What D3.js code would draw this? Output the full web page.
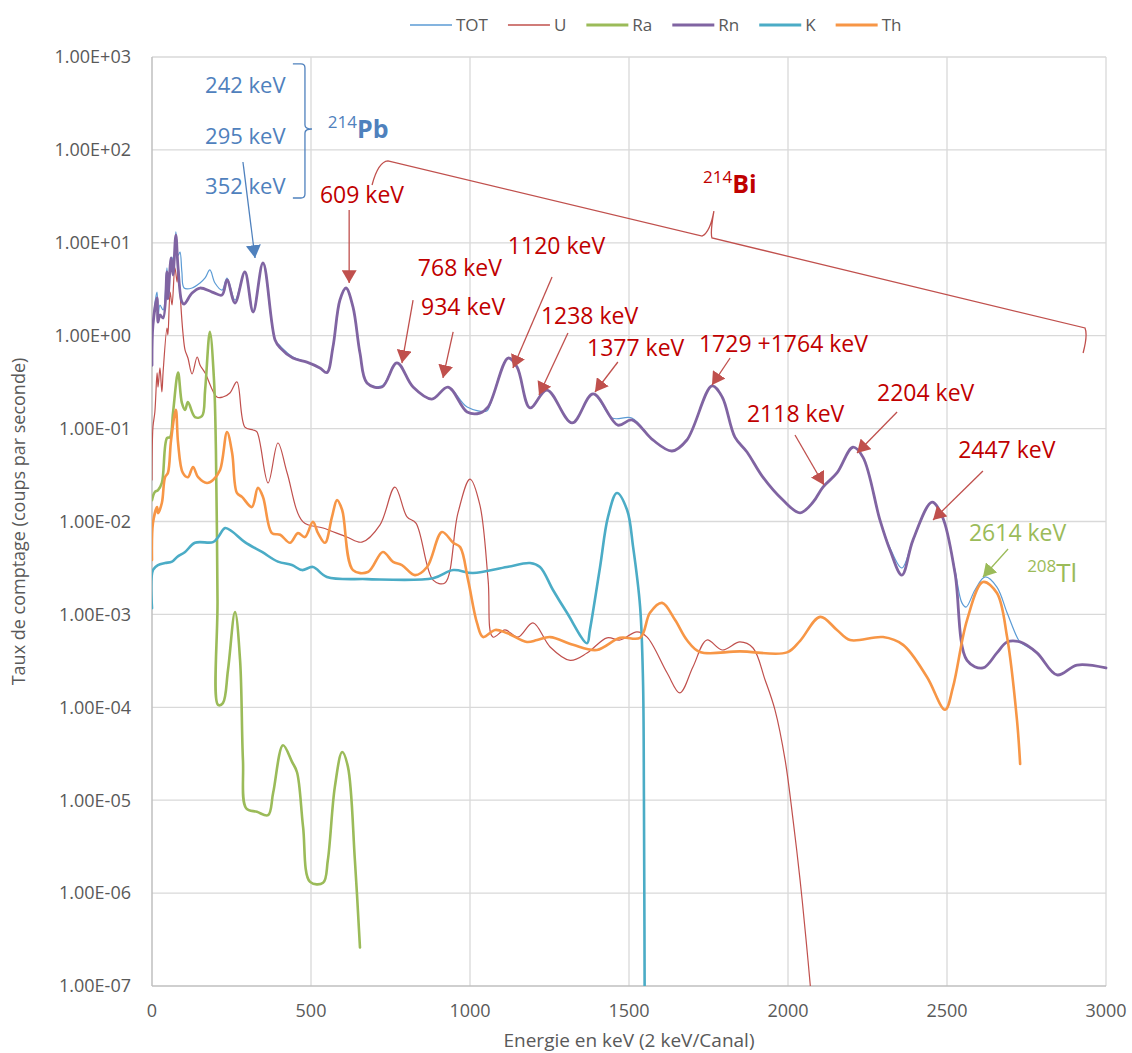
<!DOCTYPE html>
<html><head><meta charset="utf-8">
<script src="https://cdn.jsdelivr.net/npm/d3@7"></script>
<style>
body{margin:0;background:#fff}
svg{display:block}
text{font-family:"Open Sans",sans-serif}
</style>
</head><body>
<svg id="c" width="1132" height="1053"></svg>
<script>
// ---------- data (energy keV, count rate c/s) ----------
const seriesNames = ["TOT","U","Ra","Rn","K","Th"];
const seriesColors = ["#5B9BD5","#C0504D","#9BBB59","#8064A2","#4BACC6","#F79646"];
const seriesWidths = [1.2,1.2,2.6,2.8,2.6,2.6];

const TOT = [[0,0.48],[3,1.30],[16,2.95],[19,1.55],[25,2.14],[35,1.89],[47,5.36],[50,2.95],[63,7.03],[69,5.36],[75,13.1],[82,7.3],[88,7.96],[94,4.85],[101,3.26],[126,3.26],[151,3.69],[167,4.18],[182,5.1],[198,3.69],[220,3.1],[236,4.18],[261,2.42],[292,4.85],[318,1.84],[349,6.06],[387,0.90],[403,0.774],[443,0.59],[487,0.52],[528,0.45],[550,0.40],[569,0.755],[591,2.42],[610,3.26],[632,2.04],[654,0.65],[676,0.31],[723,0.288],[770,0.51],[821,0.28],[880,0.208],[931,0.28],[991,0.171],[1053,0.155],[1063,0.18],[1120,0.575],[1148,0.46],[1189,0.167],[1242,0.26],[1321,0.115],[1387,0.236],[1447,0.13],[1509,0.13],[1575,0.0754],[1635,0.0574],[1682,0.0754],[1761,0.288],[1793,0.219],[1833,0.081],[1871,0.056],[1921,0.030],[1984,0.017],[2038,0.0124],[2079,0.0162],[2110,0.0235],[2154,0.0333],[2204,0.063],[2236,0.049],[2289,0.0104],[2321,0.00518],[2358,0.00316],[2393,0.0063],[2453,0.0162],[2487,0.0109],[2525,0.0030],[2547,0.00133],[2560,0.0012],[2588,0.00183],[2620,0.00253],[2657,0.00197],[2689,0.00104],[2720,0.00057],[2730,0.000505],[2783,0.000385],[2846,0.000223],[2909,0.000285],[3000,0.000265]];

const U = [[0,0.028],[3,0.104],[9,0.151],[16,0.397],[19,0.28],[25,0.45],[31,0.248],[35,0.41],[47,1.21],[50,1.02],[57,2.95],[63,2.14],[72,5.36],[79,3.78],[82,5.77],[88,2.95],[97,1.10],[104,0.70],[113,0.575],[126,0.387],[142,0.59],[151,0.484],[167,0.397],[204,0.219],[223,0.219],[245,0.242],[267,0.318],[292,0.104],[318,0.0966],[330,0.092],[365,0.026],[396,0.070],[425,0.0333],[475,0.0099],[538,0.0085],[613,0.0068],[660,0.006],[717,0.0092],[764,0.0235],[802,0.0112],[830,0.0096],[884,0.00234],[921,0.00218],[962,0.0123],[1000,0.0286],[1031,0.0151],[1057,0.00234],[1072,0.00057],[1110,0.00068],[1151,0.00057],[1198,0.00081],[1252,0.000446],[1315,0.00032],[1368,0.000384],[1431,0.00056],[1472,0.00053],[1525,0.00065],[1557,0.00057],[1620,0.000234],[1660,0.000143],[1701,0.000272],[1745,0.00053],[1793,0.000414],[1849,0.000505],[1890,0.000435],[1928,0.000197],[1959,9.4e-5],[1991,2.7e-5],[2016,6.1e-6],[2038,1.38e-6],[2057,3.1e-7],[2072,8.6e-8]];

const Ra = [[0,0.017],[9,0.0208],[19,0.0218],[31,0.026],[47,0.079],[57,0.081],[66,0.147],[82,0.40],[94,0.189],[104,0.159],[113,0.193],[135,0.133],[157,0.136],[167,0.26],[182,1.10],[195,0.333],[201,0.059],[206,0.00143],[208,1.06e-4],[223,1.11e-4],[239,2.52e-4],[261,1.06e-3],[277,3.2e-4],[286,2.7e-5],[296,8.2e-6],[330,7.5e-6],[365,6.9e-6],[381,1.2e-5],[412,3.9e-5],[440,2.6e-5],[456,2.0e-5],[475,5.2e-6],[497,1.32e-6],[538,1.29e-6],[553,2.27e-6],[575,1.39e-5],[598,3.3e-5],[616,2.3e-5],[638,2.27e-6],[654,2.6e-7]];

const Rn = [[0,0.48],[3,1.30],[16,2.55],[19,1.40],[25,1.67],[35,1.55],[47,4.85],[50,2.5],[60,6.86],[66,4.5],[75,12.1],[82,5.36],[94,2.31],[101,2.19],[126,2.88],[151,3.26],[189,2.95],[220,2.74],[236,3.98],[261,2.25],[292,4.85],[318,1.80],[349,6.06],[387,0.90],[403,0.74],[443,0.575],[487,0.52],[528,0.45],[550,0.40],[569,0.755],[591,2.42],[610,3.26],[632,2.04],[654,0.65],[676,0.31],[723,0.28],[770,0.51],[821,0.28],[880,0.208],[931,0.28],[991,0.151],[1031,0.147],[1057,0.171],[1120,0.575],[1148,0.46],[1189,0.167],[1242,0.26],[1321,0.115],[1387,0.236],[1465,0.109],[1509,0.124],[1575,0.0754],[1635,0.0574],[1682,0.0754],[1761,0.288],[1793,0.219],[1833,0.081],[1871,0.056],[1921,0.030],[1984,0.017],[2038,0.0124],[2079,0.0162],[2110,0.0235],[2154,0.0333],[2204,0.063],[2236,0.049],[2289,0.0104],[2321,0.0049],[2358,0.00265],[2393,0.0063],[2453,0.0162],[2487,0.0109],[2525,0.0028],[2563,0.00032],[2613,0.000265],[2657,0.000385],[2689,0.000505],[2730,0.000505],[2783,0.000385],[2846,0.000223],[2909,0.000285],[3000,0.000265]];

const K = [[0,0.00117],[3,0.0030],[19,0.0034],[41,0.00357],[63,0.0037],[79,0.00415],[104,0.0047],[135,0.0059],[192,0.006],[208,0.0068],[230,0.0085],[252,0.0078],[292,0.006],[346,0.0047],[396,0.0037],[440,0.0034],[472,0.0030],[506,0.00324],[550,0.00253],[676,0.0024],[884,0.00245],[947,0.0030],[1009,0.00279],[1116,0.00324],[1189,0.00357],[1220,0.00324],[1261,0.00183],[1305,0.00104],[1368,0.00049],[1377,0.00068],[1409,0.00324],[1434,0.0112],[1462,0.0203],[1494,0.0133],[1513,0.0053],[1535,0.0012],[1544,0.000197],[1547,1.0e-5],[1550,1e-8]];

const Th = [[0,0.00385],[3,0.0096],[16,0.0143],[19,0.0123],[31,0.0158],[41,0.030],[50,0.0333],[60,0.0754],[75,0.159],[82,0.070],[97,0.0333],[113,0.030],[129,0.0386],[145,0.030],[173,0.026],[192,0.028],[214,0.0358],[236,0.092],[252,0.0546],[267,0.0203],[283,0.0184],[314,0.0143],[333,0.023],[349,0.0184],[377,0.0075],[403,0.0072],[434,0.0059],[459,0.0075],[481,0.0068],[506,0.0099],[522,0.0075],[544,0.0059],[566,0.0112],[582,0.017],[598,0.0133],[632,0.0030],[679,0.00286],[726,0.0047],[758,0.00367],[786,0.0034],[827,0.00265],[865,0.00324],[912,0.0077],[947,0.0059],[969,0.0053],[994,0.00234],[1022,0.00081],[1041,0.00057],[1079,0.00068],[1116,0.00063],[1179,0.000505],[1211,0.00053],[1252,0.00057],[1324,0.00047],[1399,0.000414],[1472,0.00056],[1535,0.00056],[1566,0.00104],[1604,0.00133],[1645,0.00087],[1682,0.00053],[1723,0.000394],[1849,0.0004],[1997,0.00039],[2038,0.00052],[2101,0.00094],[2154,0.00068],[2195,0.00053],[2299,0.00057],[2362,0.00047],[2437,0.000212],[2494,9.4e-5],[2519,1.66e-4],[2563,0.00087],[2613,0.00223],[2657,0.0017],[2689,0.00057],[2720,7.3e-5],[2730,2.46e-5]];

const xTicks = [0,500,1000,1500,2000,2500,3000];
const yTicks = [1e-7,1e-6,1e-5,1e-4,1e-3,1e-2,1e-1,1,10,100,1000];
const yTickLabels = ["1.00E-07","1.00E-06","1.00E-05","1.00E-04","1.00E-03","1.00E-02","1.00E-01","1.00E+00","1.00E+01","1.00E+02","1.00E+03"];
const xTitle = "Energie en keV (2 keV/Canal)";
const yTitle = "Taux de comptage (coups par seconde)";

// annotation labels: [text, keV, log10(rate), colour]
const peakLabels = [
  ["242 keV",167,2.61,"blue"],["295 keV",167,2.06,"blue"],["352 keV",167,1.53,"blue"],
  ["609 keV",528,1.43,"red"],["768 keV",836,0.64,"red"],["934 keV",846,0.22,"red"],
  ["1120 keV",1119,0.88,"red"],["1238 keV",1223,0.13,"red"],["1377 keV",1368,-0.22,"red"],
  ["1729 +1764 keV",1720,-0.175,"red"],["2118 keV",1871,-0.93,"red"],["2204 keV",2280,-0.70,"red"],
  ["2447 keV",2535,-1.32,"red"],["2614 keV",2569,-2.21,"green"]
];
// arrows: [fromKeV, fromLog, toKeV, toLog, colour]
const peakArrows = [
  [286,1.87,324,0.836,"blue"],[620,1.353,620,0.567,"red"],[821,0.384,786,-0.294,"red"],
  [947,0.04,915,-0.455,"red"],[1258,0.632,1135,-0.348,"red"],[1308,0.029,1217,-0.638,"red"],
  [1465,-0.283,1393,-0.606,"red"],[1818,-0.24,1761,-0.531,"red"],[2022,-1.069,2113,-1.607,"red"],
  [2343,-0.821,2217,-1.263,"red"],[2613,-1.456,2456,-1.984,"red"],[2692,-2.296,2613,-2.597,"green"]
];
// isotope labels: [mass, symbol, keV, log10, colour, bold]
const isotopes = [["214","Pb",553,2.13,"blue",true],["214","Bi",1733,1.54,"red",true],["208","Tl",2752,-2.65,"green",false]];

const annColors = {blue:"#4F81BD", red:"#C00000", green:"#9BBB59"};
const arrowColors = {blue:"#4F81BD", red:"#C0504D", green:"#9BBB59"};

// ---------- drawing ----------
const svg = d3.select("#c");
const x = d3.scaleLinear().domain([0,3000]).range([152,1106]);
const y = d3.scaleLog().domain([1e-7,1e3]).range([986,57]);
const ly = l => y(Math.pow(10,l));

// grid
const grid = svg.append("g");
grid.selectAll("line.v").data(xTicks.slice(1)).join("line")
  .attr("x1",d=>x(d)).attr("x2",d=>x(d)).attr("y1",y(1e3)).attr("y2",y(1e-7))
  .attr("stroke","#d9d9d9").attr("stroke-width",1.3);
grid.selectAll("line.h").data(yTicks.slice(1)).join("line")
  .attr("x1",x(0)).attr("x2",x(3000)).attr("y1",d=>y(d)).attr("y2",d=>y(d))
  .attr("stroke","#d9d9d9").attr("stroke-width",1.3);
// axes lines
svg.append("line").attr("x1",x(0)).attr("x2",x(0)).attr("y1",y(1e3)).attr("y2",y(1e-7)).attr("stroke","#bfbfbf").attr("stroke-width",1.5);
svg.append("line").attr("x1",x(0)).attr("x2",x(3000)).attr("y1",y(1e-7)).attr("y2",y(1e-7)).attr("stroke","#bfbfbf").attr("stroke-width",1.5);

// tick labels
svg.append("g").selectAll("text").data(xTicks).join("text")
  .attr("x",d=>x(d)).attr("y",1017).attr("text-anchor","middle")
  .attr("font-size",18).attr("fill","#595959").text(d=>d);
svg.append("g").selectAll("text").data(yTicks).join("text")
  .attr("x",131).attr("y",d=>y(d)).attr("dy","0.35em").attr("text-anchor","end")
  .attr("font-size",18).attr("fill","#595959").text((d,i)=>yTickLabels[i]);

// titles
svg.append("text").attr("x",(x(0)+x(3000))/2).attr("y",1047).attr("text-anchor","middle")
  .attr("font-size",19).attr("fill","#595959").text(xTitle);
svg.append("text").attr("transform",`translate(25,${(y(1e3)+y(1e-7))/2}) rotate(-90)`)
  .attr("text-anchor","middle").attr("font-size",18).attr("fill","#595959").text(yTitle);

// clip
svg.append("clipPath").attr("id","clip").append("rect")
  .attr("x",x(0)).attr("y",y(1e3)-2).attr("width",x(3000)-x(0)+2).attr("height",y(1e-7)-y(1e3)+2);

const line = d3.line().x(d=>x(d[0])).y(d=>y(Math.max(d[1],1e-9))).curve(d3.curveCatmullRom.alpha(0.5));
const allSeries = [TOT,U,Ra,Rn,K,Th];
const plot = svg.append("g").attr("clip-path","url(#clip)");
allSeries.forEach((s,i)=>{
  plot.append("path").datum(s).attr("d",line).attr("fill","none")
    .attr("stroke",seriesColors[i]).attr("stroke-width",seriesWidths[i])
    .attr("stroke-linejoin","round").attr("stroke-linecap","round");
});

// legend
const leg = svg.append("g");
let lx = 410;
seriesNames.forEach((n,i)=>{
  leg.append("line").attr("x1",lx).attr("x2",lx+42).attr("y1",25).attr("y2",25)
    .attr("stroke",seriesColors[i]).attr("stroke-width",i<2?1.5:2.8);
  const t = leg.append("text").attr("x",lx+46).attr("y",31).attr("font-size",17)
    .attr("fill","#595959").text(n);
  lx += 46 + t.node().getComputedTextLength() + 20;
});

// arrow markers
const defs = svg.append("defs");
Object.entries(arrowColors).forEach(([k,c])=>{
  defs.append("marker").attr("id","arr-"+k).attr("viewBox","0 0 12 14")
    .attr("refX",12).attr("refY",7).attr("markerWidth",13).attr("markerHeight",15)
    .attr("markerUnits","userSpaceOnUse").attr("orient","auto")
    .append("path").attr("d","M0,0 L12,7 L0,14 Z").attr("fill",c);
});

const ann = svg.append("g");
ann.selectAll("line").data(peakArrows).join("line")
  .attr("x1",d=>x(d[0])).attr("y1",d=>ly(d[1])).attr("x2",d=>x(d[2])).attr("y2",d=>ly(d[3]))
  .attr("stroke",d=>arrowColors[d[4]]).attr("stroke-width",1.3)
  .attr("marker-end",d=>`url(#arr-${d[4]})`);

ann.selectAll("text.lab").data(peakLabels).join("text").attr("class","lab")
  .attr("x",d=>x(d[1])).attr("y",d=>ly(d[2]))
  .attr("font-size",d=>d[3]==="blue"?22:23)
  .attr("fill",d=>annColors[d[3]]).text(d=>d[0]);

isotopes.forEach(d=>{
  const t = ann.append("text").attr("x",x(d[2])).attr("y",ly(d[3])).attr("fill",annColors[d[4]]);
  t.append("tspan").attr("font-size",17).attr("dy",-10).text(d[0]);
  t.append("tspan").attr("font-size",d[5]?25:26).attr("font-weight",d[5]?"bold":"normal").attr("dy",10).text(d[1]);
});

// Pb bracket
{
  const x0=x(443), x1=x(481), x2=x(503);
  const yt=ly(2.925), ym=ly(2.225), yb=ly(1.482), r=4;
  const p = `M${x0},${yt} L${x1-r},${yt} Q${x1},${yt} ${x1},${yt+r} L${x1},${ym-r} Q${x1},${ym} ${x2},${ym} Q${x1},${ym} ${x1},${ym+r} L${x1},${yb-r} Q${x1},${yb} ${x1-r},${yb} L${x0},${yb}`;
  ann.append("path").attr("d",p).attr("fill","none").attr("stroke","#4F81BD").attr("stroke-width",1.3);
}
// Bi bracket
{
  const P = (k,l)=>`${x(k)},${ly(l)}`;
  const p = `M${P(692,1.622)} Q${P(711,1.870)} ${P(742,1.881)} L${P(1730,1.073)} Q${P(1755,1.116)} ${P(1767,1.342)} Q${P(1755,1.105)} ${P(1761,1.052)} L${P(2934,0.083)} Q${P(2943,0.008)} ${P(2928,-0.186)}`;
  ann.append("path").attr("d",p).attr("fill","none").attr("stroke","#C0504D").attr("stroke-width",1.3);
}
</script>
</body></html>
